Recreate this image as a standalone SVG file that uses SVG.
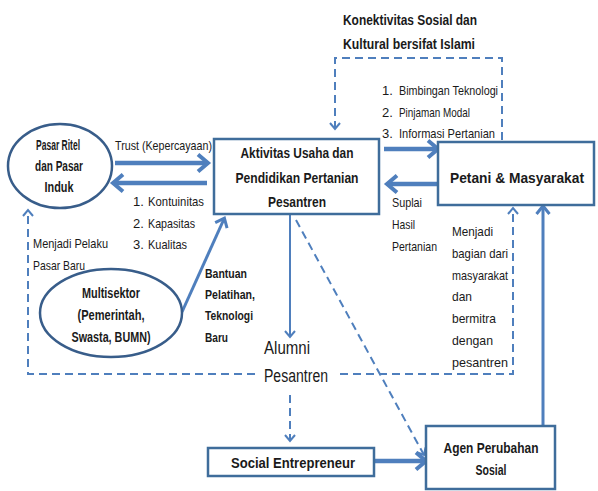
<svg xmlns="http://www.w3.org/2000/svg" width="598" height="491" viewBox="0 0 598 491">
<defs>
<style>
.t{font-family:"Liberation Sans",Arial,sans-serif;fill:#1a1a1a}
.b{font-weight:bold}
.r{font-size:13px}
.c{text-anchor:middle}
.box{fill:#fff;stroke:#3f6d9b;stroke-width:2.5}
.ell{fill:#fff;stroke:#385d8a;stroke-width:2.5}
.ln{fill:none;stroke:#4f7fbd}
.dash{fill:none;stroke:#4f7fbd;stroke-width:2;stroke-dasharray:8 5}
</style>
<marker id="ahL" markerUnits="userSpaceOnUse" markerWidth="26" markerHeight="26" viewBox="0 0 26 26" refX="17" refY="13" orient="auto">
<path d="M8,4.5 L18,13 L8,21.5" fill="none" stroke="#4f7fbd" stroke-width="4"/>
</marker>
<marker id="ahM" markerUnits="userSpaceOnUse" markerWidth="22" markerHeight="22" viewBox="0 0 22 22" refX="14" refY="11" orient="auto">
<path d="M7,4.5 L15,11 L7,17.5" fill="none" stroke="#4f7fbd" stroke-width="3"/>
</marker>
<marker id="ahS" markerUnits="userSpaceOnUse" markerWidth="16" markerHeight="16" viewBox="0 0 16 16" refX="11" refY="8" orient="auto">
<path d="M5,3 L11,8 L5,13" fill="none" stroke="#4f7fbd" stroke-width="2"/>
</marker>
</defs>

<g id="connectors">
<line class="ln" x1="115" y1="163" x2="207" y2="163" stroke-width="4.5" marker-end="url(#ahL)"/>
<line class="ln" x1="207" y1="183" x2="114" y2="183" stroke-width="4.5" marker-end="url(#ahL)"/>
<line class="ln" x1="384" y1="149" x2="437" y2="149" stroke-width="4.5" marker-end="url(#ahL)"/>
<line class="ln" x1="437" y1="184" x2="388" y2="184" stroke-width="4.5" marker-end="url(#ahL)"/>
<line class="ln" x1="182" y1="312" x2="224" y2="219" stroke-width="3" marker-end="url(#ahM)"/>
<line class="ln" x1="290" y1="214" x2="290" y2="337" stroke-width="2" marker-end="url(#ahS)"/>
<line class="ln" x1="372" y1="461" x2="425" y2="461" stroke-width="4.5" marker-end="url(#ahL)"/>
<line class="ln" x1="543" y1="426" x2="543" y2="207" stroke-width="3" marker-end="url(#ahM)"/>
<path class="dash" d="M502,140 V58 H335 V129" marker-end="url(#ahS)"/>
<path class="dash" d="M255,374 H28 V210" marker-end="url(#ahS)"/>
<path class="dash" d="M340,374 H513 V208" marker-end="url(#ahS)"/>
<line class="dash" x1="296" y1="220" x2="424" y2="455" marker-end="url(#ahS)"/>
<line class="dash" x1="290" y1="395" x2="290" y2="441" marker-end="url(#ahS)"/>
</g>

<g id="pasar">
<ellipse class="ell" cx="60" cy="166" rx="52" ry="42"/>
<text class="t b c" font-size="14.5" x="58" y="150" textLength="44" lengthAdjust="spacingAndGlyphs">Pasar Ritel</text>
<text class="t b c" font-size="14.5" x="59" y="171" textLength="48" lengthAdjust="spacingAndGlyphs">dan Pasar</text>
<text class="t b c" font-size="14.5" x="59" y="192" textLength="29" lengthAdjust="spacingAndGlyphs">Induk</text>
</g>

<g id="aktivitas">
<rect class="box" x="214" y="139" width="165" height="75"/>
<text class="t b c" font-size="15" x="297" y="158" textLength="113" lengthAdjust="spacingAndGlyphs">Aktivitas Usaha dan</text>
<text class="t b c" font-size="15" x="297" y="183" textLength="123" lengthAdjust="spacingAndGlyphs">Pendidikan Pertanian</text>
<text class="t b c" font-size="15" x="297" y="207" textLength="58" lengthAdjust="spacingAndGlyphs">Pesantren</text>
</g>

<g id="petani">
<rect class="box" x="438" y="142" width="156" height="63"/>
<text class="t b c" font-size="15" x="517" y="183" textLength="134" lengthAdjust="spacingAndGlyphs">Petani &amp; Masyarakat</text>
</g>

<g id="multisektor">
<ellipse class="ell" cx="111" cy="313" rx="71" ry="44"/>
<text class="t b c" font-size="14" x="111" y="298" textLength="58" lengthAdjust="spacingAndGlyphs">Multisektor</text>
<text class="t b c" font-size="14" x="111" y="320" textLength="67" lengthAdjust="spacingAndGlyphs">(Pemerintah,</text>
<text class="t b c" font-size="14" x="111" y="342" textLength="79" lengthAdjust="spacingAndGlyphs">Swasta, BUMN)</text>
</g>

<g id="alumni">
<text class="t" font-size="17.5" x="264" y="354" textLength="46" lengthAdjust="spacingAndGlyphs">Alumni</text>
<text class="t" font-size="17.5" x="264" y="382" textLength="64" lengthAdjust="spacingAndGlyphs">Pesantren</text>
</g>

<g id="social">
<rect class="box" x="208" y="448" width="166" height="28"/>
<text class="t b c" font-size="14" x="293" y="468" textLength="124" lengthAdjust="spacingAndGlyphs">Social Entrepreneur</text>
</g>

<g id="agen">
<rect class="box" x="426" y="426" width="129" height="63"/>
<text class="t b c" font-size="15" x="491" y="453" textLength="95" lengthAdjust="spacingAndGlyphs">Agen Perubahan</text>
<text class="t b c" font-size="15" x="491" y="475" textLength="31" lengthAdjust="spacingAndGlyphs">Sosial</text>
</g>

<g id="labels">
<text class="t r" x="115" y="150" textLength="97" lengthAdjust="spacingAndGlyphs">Trust (Kepercayaan)</text>
<text class="t r" y="206"><tspan x="133">1.</tspan><tspan x="148" textLength="56" lengthAdjust="spacingAndGlyphs">Kontuinitas</tspan></text>
<text class="t r" y="228"><tspan x="133">2.</tspan><tspan x="148" textLength="47" lengthAdjust="spacingAndGlyphs">Kapasitas</tspan></text>
<text class="t r" y="249"><tspan x="133">3.</tspan><tspan x="148" textLength="39" lengthAdjust="spacingAndGlyphs">Kualitas</tspan></text>
<text class="t r" x="33" y="248" textLength="75" lengthAdjust="spacingAndGlyphs">Menjadi Pelaku</text>
<text class="t r" x="33" y="270" textLength="52" lengthAdjust="spacingAndGlyphs">Pasar Baru</text>
<text class="t b" font-size="14.5" x="343" y="25" textLength="134" lengthAdjust="spacingAndGlyphs">Konektivitas Sosial dan</text>
<text class="t b" font-size="14.5" x="343" y="49" textLength="132" lengthAdjust="spacingAndGlyphs">Kultural bersifat Islami</text>
<text class="t r" y="95"><tspan x="382">1.</tspan><tspan x="399" textLength="99" lengthAdjust="spacingAndGlyphs">Bimbingan Teknologi</tspan></text>
<text class="t r" y="117"><tspan x="382">2.</tspan><tspan x="399" textLength="71" lengthAdjust="spacingAndGlyphs">Pinjaman Modal</tspan></text>
<text class="t r" y="138"><tspan x="382">3.</tspan><tspan x="399" textLength="96" lengthAdjust="spacingAndGlyphs">Informasi Pertanian</tspan></text>
<text class="t r" x="392" y="207" textLength="30" lengthAdjust="spacingAndGlyphs">Suplai</text>
<text class="t r" x="392" y="229" textLength="23" lengthAdjust="spacingAndGlyphs">Hasil</text>
<text class="t r" x="392" y="251" textLength="45" lengthAdjust="spacingAndGlyphs">Pertanian</text>
<text class="t r" x="452" y="236" textLength="41" lengthAdjust="spacingAndGlyphs">Menjadi</text>
<text class="t r" x="452" y="258" textLength="56" lengthAdjust="spacingAndGlyphs">bagian dari</text>
<text class="t r" x="452" y="280" textLength="56" lengthAdjust="spacingAndGlyphs">masyarakat</text>
<text class="t r" x="452" y="301" textLength="20" lengthAdjust="spacingAndGlyphs">dan</text>
<text class="t r" x="452" y="323" textLength="44" lengthAdjust="spacingAndGlyphs">bermitra</text>
<text class="t r" x="452" y="345" textLength="41" lengthAdjust="spacingAndGlyphs">dengan</text>
<text class="t r" x="452" y="367" textLength="56" lengthAdjust="spacingAndGlyphs">pesantren</text>
<text class="t b" font-size="13.5" x="205" y="278" textLength="42" lengthAdjust="spacingAndGlyphs">Bantuan</text>
<text class="t b" font-size="13.5" x="205" y="299" textLength="50" lengthAdjust="spacingAndGlyphs">Pelatihan,</text>
<text class="t b" font-size="13.5" x="205" y="320" textLength="48" lengthAdjust="spacingAndGlyphs">Teknologi</text>
<text class="t b" font-size="13.5" x="205" y="342" textLength="23" lengthAdjust="spacingAndGlyphs">Baru</text>
</g>
</svg>
